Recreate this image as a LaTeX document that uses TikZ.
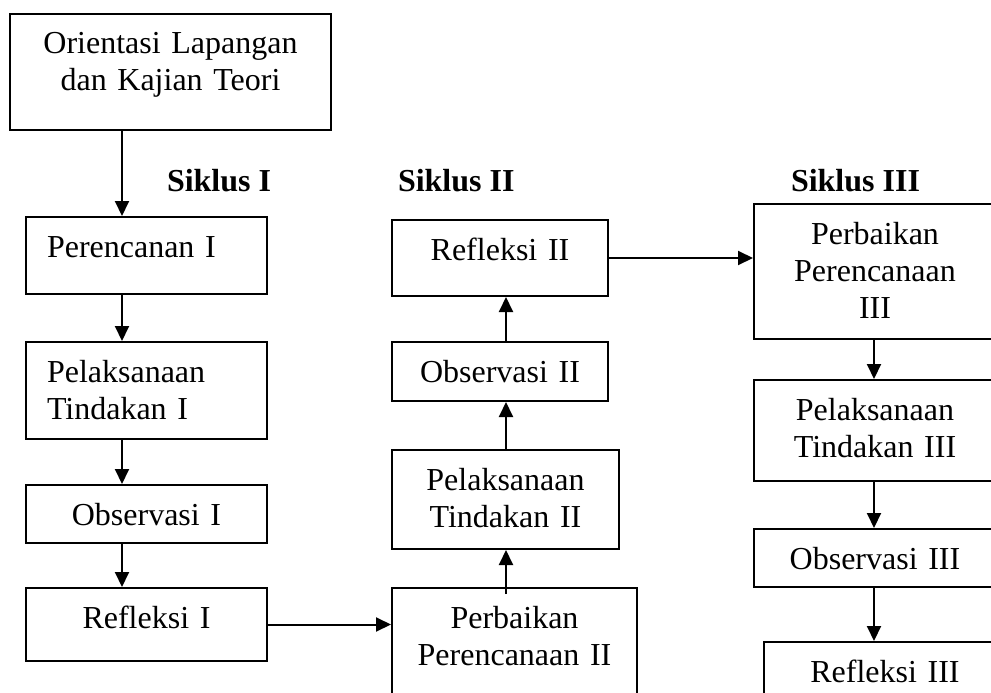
\documentclass[tikz,border=0pt]{standalone}
\usepackage{fontspec}
\setmainfont{Liberation Serif}
\usetikzlibrary{arrows.meta}

\begin{document}
\begin{tikzpicture}[x=1pt, y=-1pt, line width=2pt,
    >={Triangle[length=15pt,width=14pt]},
    font=\fontsize{32}{37}\selectfont,
    stage/.style={draw, inner xsep=0pt, inner ysep=0pt, anchor=north west,
        text height=40pt, align=center},
    leftstage/.style={stage, align=left, inner xsep=21pt},
    siklus/.style={anchor=base west, inner sep=0pt,
        font=\fontsize{32}{37}\selectfont\bfseries}]
    \useasboundingbox (0,0) rectangle (991,693);
    \clip (0,0) rectangle (991,693);

    \node[stage, text width=321pt, text depth=76pt] (orient) at (9,13) {Orientasi Lapangan\\dan Kajian Teori};

    \node[siklus] (s1) at (166,191) {Siklus I};
    \node[siklus] (s2) at (397,191) {Siklus II};
    \node[siklus] (s3) at (790,191) {Siklus III};

    \node[leftstage, text width=199pt, text depth=37pt] (per1) at (25,216) {Perencanan I};
    \node[leftstage, text width=199pt, text depth=57pt] (pel1) at (25,341) {Pelaksanaan\\Tindakan I};
    \node[stage, text width=241pt, text depth=18pt] (obs1) at (25,484) {Observasi I};
    \node[stage, text width=241pt, text depth=33pt] (ref1) at (25,587) {Refleksi I};

    \node[stage, text width=245pt, text depth=93pt] (per2) at (391,587) {Perbaikan\\Perencanaan II};
    \node[stage, text width=227pt, text depth=59pt] (pel2) at (391,449) {Pelaksanaan\\Tindakan II};
    \node[stage, text width=216pt, text depth=19pt] (obs2) at (391,341) {Observasi II};
    \node[stage, text width=216pt, text depth=36pt] (ref2) at (391,219) {Refleksi II};

    \node[stage, text width=242pt, text depth=95pt] (per3) at (753,203) {Perbaikan\\Perencanaan\\III};
    \node[stage, text width=242pt, text depth=61pt] (pel3) at (753,379) {Pelaksanaan\\Tindakan III};
    \node[stage, text width=242pt, text depth=18pt] (obs3) at (753,528) {Observasi III};
    \node[stage, text width=242pt, text depth=40pt] (ref3) at (763,641) {Refleksi III};

    \coordinate (colA) at (122,0);
    \coordinate (colB) at (506,0);
    \coordinate (colC) at (874,0);

    \draw[->] (orient.south -| colA) -- (per1.north -| colA);
    \draw[->] (per1.south -| colA) -- (pel1.north -| colA);
    \draw[->] (pel1.south -| colA) -- (obs1.north -| colA);
    \draw[->] (obs1.south -| colA) -- (ref1.north -| colA);
    \draw[->] (ref1.east) -- (ref1.east -| per2.west);

    \draw[->] ([yshift=-7pt]per2.north -| colB) -- (pel2.south -| colB);
    \draw[->] (pel2.north -| colB) -- (obs2.south -| colB);
    \draw[->] (obs2.north -| colB) -- (ref2.south -| colB);
    \draw[->] (ref2.east) -- (ref2.east -| per3.west);

    \draw[->] (per3.south -| colC) -- (pel3.north -| colC);
    \draw[->] (pel3.south -| colC) -- (obs3.north -| colC);
    \draw[->] (obs3.south -| colC) -- (ref3.north -| colC);
\end{tikzpicture}
\end{document}
